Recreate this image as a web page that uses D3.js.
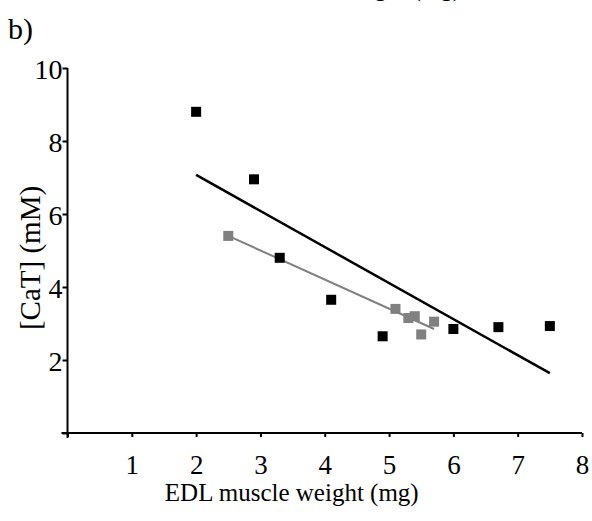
<!DOCTYPE html>
<html>
<head>
<meta charset="utf-8">
<script src="https://cdn.jsdelivr.net/npm/d3@7"></script>
<style>
html,body{margin:0;padding:0;background:#fff;}
svg{display:block;font-family:"Liberation Serif","Times New Roman",serif;}
</style>
</head>
<body>
<svg id="chart" width="592" height="521"></svg>
<script>
// Data
const blackX = [2.0, 2.9, 3.3, 4.1, 4.9, 6.0, 6.7, 7.5];
const blackY = [8.8, 6.95, 4.8, 3.65, 2.65, 2.85, 2.9, 2.93];
const grayX = [2.5, 5.1, 5.3, 5.4, 5.5, 5.7];
const grayY = [5.4, 3.4, 3.15, 3.2, 2.7, 3.05];
const blackFitX = [2.0, 7.5];
const blackFitY = [7.07, 1.64];
const grayFitX = [2.5, 5.7];
const grayFitY = [5.4, 2.85];
const xTicks = [0, 1, 2, 3, 4, 5, 6, 7, 8];
const yTicks = [0, 2, 4, 6, 8, 10];

const svg = d3.select("#chart");
const x = d3.scaleLinear().domain([0, 8]).range([67.5, 582]);
const y = d3.scaleLinear().domain([0, 10]).range([433, 68]);

// clipped title text of panel above
svg.append("text").attr("x", 461).attr("y", -4).attr("text-anchor", "end")
  .attr("font-size", 25).text("EDL muscle weight (mg)");

svg.append("text").attr("x", 8).attr("y", 39).attr("font-size", 30).text("b)");

// x axis
const xAxis = d3.axisBottom(x).tickValues(xTicks).tickSize(4).tickSizeOuter(0)
  .tickFormat(d => d === 0 ? "" : d);
const gx = svg.append("g").attr("transform", `translate(0,${y(0)})`).call(xAxis);
gx.select(".domain").attr("d", `M${x(0)-6},0H${x(8)}`);
gx.selectAll("path,line").attr("stroke", "#000").attr("stroke-width", 2);
gx.selectAll("text").attr("font-size", 27).attr("font-family", "Liberation Serif")
  .attr("fill", "#000").attr("dy", "0.71em").attr("y", 22);

// y axis
const yAxis = d3.axisLeft(y).tickValues(yTicks).tickSize(5).tickSizeOuter(0)
  .tickFormat(d => d === 0 ? "" : d);
const gy = svg.append("g").attr("transform", `translate(${x(0)},0)`).call(yAxis);
gy.select(".domain").attr("d", `M0,${y(10)}V${y(0)+5}`);
gy.selectAll("path,line").attr("stroke", "#000").attr("stroke-width", 2);
gy.selectAll("text").attr("font-size", 28).attr("font-family", "Liberation Serif")
  .attr("fill", "#000").attr("x", -5).attr("dy", "0.36em");

// axis titles
svg.append("text").attr("x", (x(0) + x(8)) / 2 - 33).attr("y", 501)
  .attr("text-anchor", "middle").attr("font-size", 25).text("EDL muscle weight (mg)");
svg.append("text").attr("transform", `translate(40,258) rotate(-90)`)
  .attr("text-anchor", "middle").attr("font-size", 29).text("[CaT] (mM)");

// fit lines
const line = d3.line().x(d => x(d[0])).y(d => y(d[1]));
svg.append("path").datum(blackFitX.map((v, i) => [v, blackFitY[i]]))
  .attr("d", line).attr("fill", "none").attr("stroke", "#000").attr("stroke-width", 2.5);
svg.append("path").datum(grayFitX.map((v, i) => [v, grayFitY[i]]))
  .attr("d", line).attr("fill", "none").attr("stroke", "#808080").attr("stroke-width", 2);

// markers
const s = 10;
svg.append("g").selectAll("rect").data(grayX.map((v, i) => [v, grayY[i]])).join("rect")
  .attr("x", d => x(d[0]) - s/2).attr("y", d => y(d[1]) - s/2)
  .attr("width", s).attr("height", s).attr("fill", "#808080");
svg.append("g").selectAll("rect").data(blackX.map((v, i) => [v, blackY[i]])).join("rect")
  .attr("x", d => x(d[0]) - s/2).attr("y", d => y(d[1]) - s/2)
  .attr("width", s).attr("height", s).attr("fill", "#000");
</script>
</body>
</html>
